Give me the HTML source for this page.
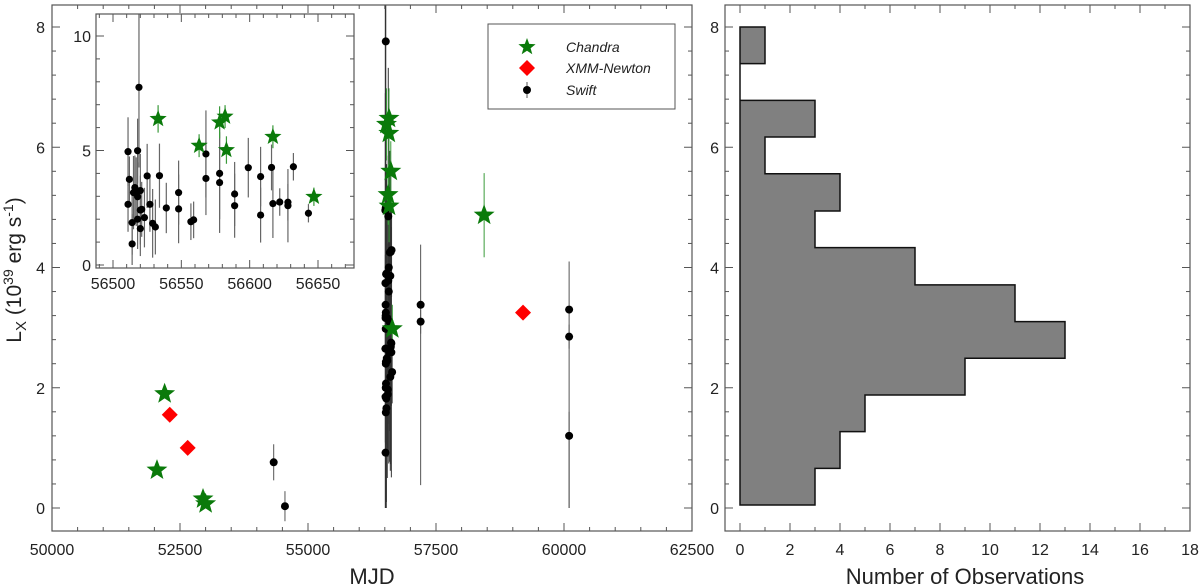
<!DOCTYPE html>
<html><head><meta charset="utf-8"><style>
html,body{margin:0;padding:0;background:#fff;}
svg{display:block;font-family:"Liberation Sans",sans-serif;}
</style></head><body>
<svg id="fig" width="1200" height="586" viewBox="0 0 1200 586" xmlns="http://www.w3.org/2000/svg"></svg>
<script>
// ---- data ----
const swiftMjd = [56511,56512,56511,56514,56514,56515,56516,56518,56519,56517,56518,56520,56520,56521,56520,56518,56523,56525,56527,56529,56531,56534,56539,56548,56548,56557,56559,56568,56568,56578,56578,56589,56589,56599,56608,56608,56616,56617,56622,56628,56628,56632,56643];
const swiftLx  = [4.95,3.74,2.65,1.85,0.92,3.16,3.38,4.99,7.76,3.2,2.98,3.25,2.4,2.43,1.59,2.0,2.07,3.89,2.65,1.82,1.66,3.9,2.49,3.16,2.45,1.89,1.97,4.85,3.78,4.0,3.6,3.1,2.59,4.25,3.86,2.18,4.26,2.68,2.75,2.74,2.59,4.29,2.26];
const swiftErr = [1.5,1.0,1.2,1.4,1.3,1.6,1.4,1.4,3.5,1.5,1.5,1.6,1.5,1.2,1.2,1.3,1.3,1.4,1.2,1.5,1.2,1.4,1.1,1.4,1.5,0.8,0.8,1.9,1.6,2.0,2.2,1.4,1.4,1.3,1.3,1.2,1.0,1.5,0.6,0.8,1.6,0.6,0.4];
const swiftExtraMjd = [54330,54550,57200,57200,60100,60100,60100];
const swiftExtraLx  = [0.76,0.03,3.38,3.1,3.3,2.85,1.2];
const swiftExtraLo  = [0.3,0.25,3.0,0.2,3.3,0.2,1.2];
const swiftExtraHi  = [0.3,0.25,1.0,0.2,0.8,0.2,0.4];
const chandraMjd = [52050,52200,52950,53000,56533,56563,56578,56582,56583,56617,56647,58440];
const chandraLx  = [0.63,1.9,0.15,0.07,6.38,5.21,6.23,6.48,5.02,5.6,2.98,4.87];
const chandraErr = [0,0,0,0,0.6,0.5,0.7,0.5,0.6,0.5,0.4,0.7];
const xmmMjd = [52300,52650,59200];
const xmmLx  = [1.55,1.0,3.25];
const histEdges = [0.05,0.66,1.27,1.88,2.49,3.10,3.71,4.33,4.94,5.56,6.17,6.78,7.39,8.0];
const histCounts = [3,4,5,9,13,11,7,3,4,1,3,0,1];
const mainXTicks = [50000,52500,55000,57500,60000,62500];
const mainYTicks = [0,2,4,6,8];
const insetXTicks = [56500,56550,56600,56650];
const insetYTicks = [0,5,10];
const histXTicks = [0,2,4,6,8,10,12,14,16,18];

const NS="http://www.w3.org/2000/svg";
const svg=document.getElementById('fig');
function mk(tag,attrs,parent){const e=document.createElementNS(NS,tag);for(const k in attrs)e.setAttribute(k,attrs[k]);(parent||svg).appendChild(e);return e;}
function lin(d0,d1,p0,p1){return v=>p0+(v-d0)*(p1-p0)/(d1-d0);}

const M={l:52,r:692,t:5,b:531};
const mx=lin(50000,62500,M.l,M.r), my=lin(0,8,508,27);
const I={l:96,r:354,t:14,b:268};
const ix=lin(56500,56650,113,318), iy=lin(0,10,265,36);
const H={l:725,r:1190,t:5,b:531};
const hx=lin(0,18,740,1190), hy=my;

function frame(B,name){const r=mk('rect',{x:B.l,y:B.t,width:B.r-B.l,height:B.b-B.t,fill:'none',stroke:'#555','stroke-width':1.2});}
function ticks(B,sx,sy,xmaj,xmin,ymaj,ymin,xr,yr,g){
  for(let v=xr[0];v<=xr[1]+1e-9;v+=xmin){const x=sx(v);if(x<B.l||x>B.r)continue;const maj=Math.abs(v/xmaj-Math.round(v/xmaj))<1e-6;const L=maj?8:4;
    mk('line',{x1:x,x2:x,y1:B.b,y2:B.b-L,stroke:'#555'},g);mk('line',{x1:x,x2:x,y1:B.t,y2:B.t+L,stroke:'#555'},g);}
  for(let v=yr[0];v<=yr[1]+1e-9;v+=ymin){const y=sy(v);if(y<B.t||y>B.b)continue;const maj=Math.abs(v/ymaj-Math.round(v/ymaj))<1e-6;const L=maj?8:4;
    mk('line',{x1:B.l,x2:B.l+L,y1:y,y2:y,stroke:'#555'},g);mk('line',{x1:B.r,x2:B.r-L,y1:y,y2:y,stroke:'#555'},g);}
}
function star(cx,cy,R,g){let p=[];for(let i=0;i<10;i++){const a=-Math.PI/2+i*Math.PI/5;const r=i%2?R*0.42:R;p.push((cx+r*Math.cos(a)).toFixed(1)+','+(cy+r*Math.sin(a)).toFixed(1));}
  const s=mk('polygon',{points:p.join(' '),fill:'#0a7a0a'},g);return s;}
function diamond(cx,cy,R,g){const d=mk('polygon',{points:`${cx},${cy-R} ${cx+R},${cy} ${cx},${cy+R} ${cx-R},${cy}`,fill:'#f00'},g);}
function clip(id,B){const c=mk('clipPath',{id:id});mk('rect',{x:B.l,y:B.t,width:B.r-B.l,height:B.b-B.t},c);}
clip('cm',M);clip('ci',I);clip('ch',H);

// ---- main panel ----
const gMain=mk('g',{'clip-path':'url(#cm)'});

const gMT=mk('g',{});ticks(M,mx,my,2500,500,2,0.4,[50000,62500],[0,8],gMT);
swiftMjd.forEach((m,i)=>{const x=mx(m);mk('line',{x1:x,x2:x,y1:my(Math.max(0,swiftLx[i]-swiftErr[i]*1.3)),y2:my(swiftLx[i]+swiftErr[i]*1.3),stroke:'#333','stroke-width':1},gMain);});
swiftExtraMjd.forEach((m,i)=>{const x=mx(m);mk('line',{x1:x,x2:x,y1:my(swiftExtraLx[i]-swiftExtraLo[i]),y2:my(swiftExtraLx[i]+swiftExtraHi[i]),stroke:'#555','stroke-width':1},gMain);});
mk('line',{x1:mx(56510),x2:mx(56510),y1:my(0),y2:0,stroke:'#333','stroke-width':1},gMain);
chandraMjd.forEach((m,i)=>{if(chandraErr[i]>0){const x=mx(m);mk('line',{x1:x,x2:x,y1:my(chandraLx[i]-chandraErr[i]),y2:my(chandraLx[i]+chandraErr[i]),stroke:'#3a9a3a','stroke-width':1},gMain);}});
swiftMjd.forEach((m,i)=>{const c=mk('circle',{cx:mx(m),cy:my(swiftLx[i]),r:4,fill:'#000'},gMain);});
swiftExtraMjd.forEach((m,i)=>{const c=mk('circle',{cx:mx(m),cy:my(swiftExtraLx[i]),r:4,fill:'#000'},gMain);});
chandraMjd.forEach((m,i)=>star(mx(m),my(chandraLx[i]),11,gMain));
xmmMjd.forEach((m,i)=>diamond(mx(m),my(xmmLx[i]),8,gMain));
frame(M,'main-frame');
mainXTicks.forEach(v=>{const t=mk('text',{x:mx(v),y:555,'font-size':16,'text-anchor':'middle',fill:'#222'});t.textContent=v;});
mainYTicks.forEach(v=>{const t=mk('text',{x:45,y:my(v)+6,'font-size':16,'text-anchor':'end',fill:'#222'});t.textContent=v;});
let t=mk('text',{x:372,y:584,'font-size':22,'text-anchor':'middle',fill:'#222'});t.textContent='MJD';
t=mk('text',{transform:'translate(21,270) rotate(-90)','font-size':21,'text-anchor':'middle',fill:'#222'});

t.innerHTML='L<tspan font-size="15" dy="5">X</tspan><tspan dy="-5"> (10</tspan><tspan font-size="14" dy="-8">39</tspan><tspan dy="8"> erg s</tspan><tspan font-size="14" dy="-8">-1</tspan><tspan dy="8">)</tspan>';

// legend
const gL=mk('g',{});
mk('rect',{x:488,y:24,width:187,height:85,fill:'#fff',stroke:'#555','stroke-width':1},gL);
star(527,47,9,gL);diamond(527,68,8,gL);
mk('line',{x1:527,x2:527,y1:82,y2:98,stroke:'#555'},gL);mk('circle',{cx:527,cy:90,r:4,fill:'#000'},gL);
[['Chandra',52],['XMM-Newton',73],['Swift',95]].forEach(([s,y])=>{const e=mk('text',{x:566,y:y,'font-size':14,'font-style':'italic',fill:'#222'},gL);e.textContent=s;});

// ---- inset ----
mk('rect',{x:I.l,y:I.t,width:I.r-I.l,height:I.b-I.t,fill:'#fff'});
const gI=mk('g',{'clip-path':'url(#ci)'});
swiftMjd.forEach((m,i)=>{const x=ix(m);mk('line',{x1:x,x2:x,y1:iy(Math.max(0,swiftLx[i]-swiftErr[i])),y2:iy(swiftLx[i]+swiftErr[i]),stroke:'#666','stroke-width':1.2},gI);});
chandraMjd.forEach((m,i)=>{if(chandraErr[i]>0){const x=ix(m);mk('line',{x1:x,x2:x,y1:iy(chandraLx[i]-chandraErr[i]),y2:iy(chandraLx[i]+chandraErr[i]),stroke:'#3a9a3a','stroke-width':1.2},gI);}});
swiftMjd.forEach((m,i)=>{const c=mk('circle',{cx:ix(m),cy:iy(swiftLx[i]),r:3.6,fill:'#000'},gI);});
chandraMjd.forEach((m,i)=>star(ix(m),iy(chandraLx[i]),9,gI));
ticks(I,ix,iy,50,10,5,1,[56490,56680],[0,10],mk('g',{}));
frame(I,'inset-frame');
insetXTicks.forEach(v=>{const e=mk('text',{x:ix(v),y:289,'font-size':16,'text-anchor':'middle',fill:'#222'});e.textContent=v;});
insetYTicks.forEach(v=>{const e=mk('text',{x:91,y:iy(v)+6,'font-size':16,'text-anchor':'end',fill:'#222'});e.textContent=v;});

// ---- histogram ----
const gH=mk('g',{'clip-path':'url(#ch)'});
// filled step path from counts
let d='M'+hx(0)+','+hy(histEdges[0]);
histCounts.forEach((c,i)=>{d+=' L'+hx(c)+','+hy(histEdges[i])+' L'+hx(c)+','+hy(histEdges[i+1]);});
d+=' L'+hx(0)+','+hy(histEdges[histEdges.length-1])+' Z';
const hp=mk('path',{d:d,fill:'#808080',stroke:'#111','stroke-width':1.5},gH);

ticks(H,hx,hy,2,1,2,0.4,[0,18],[0,8],mk('g',{}));
frame(H,'hist-frame');
histXTicks.forEach(v=>{const e=mk('text',{x:hx(v),y:555,'font-size':16,'text-anchor':'middle',fill:'#222'});e.textContent=v;});
mainYTicks.forEach(v=>{const e=mk('text',{x:719,y:hy(v)+6,'font-size':16,'text-anchor':'end',fill:'#222'});e.textContent=v;});
t=mk('text',{x:965,y:584,'font-size':22,'text-anchor':'middle',fill:'#222'});t.textContent='Number of Observations';
</script>
</body></html>
